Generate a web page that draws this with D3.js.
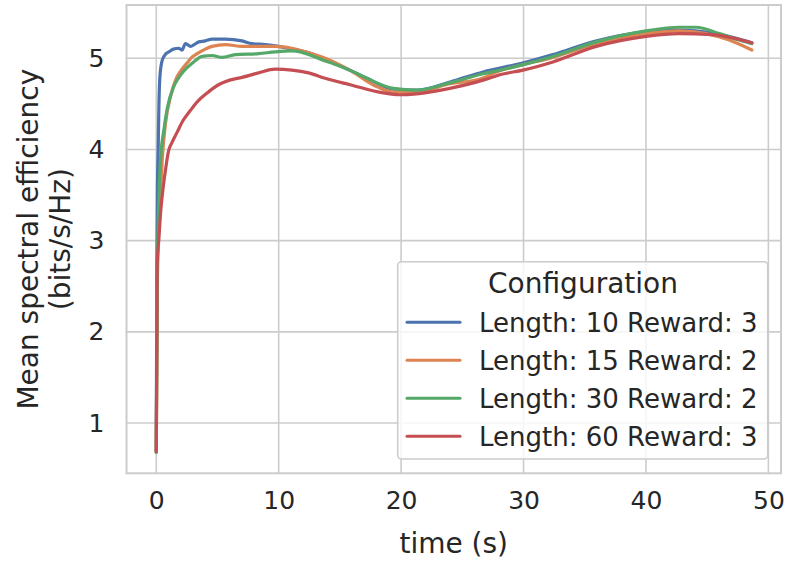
<!DOCTYPE html>
<html>
<head>
<meta charset="utf-8">
<script src="https://cdn.jsdelivr.net/npm/d3@7"></script>
<style>
  html, body { margin: 0; padding: 0; background: #fff; }
  svg { display: block; font-family: "DejaVu Sans", sans-serif; }
</style>
</head>
<body>
<svg id="chart" width="787" height="564"></svg>
<script>
// ---- data ----
const configurations = ["Length: 10 Reward: 3", "Length: 15 Reward: 2", "Length: 30 Reward: 2", "Length: 60 Reward: 3"];
const colors = ["#4c72b0", "#dd8452", "#55a868", "#c44e52"];
const xTicks = [0, 10, 20, 30, 40, 50];
const yTicks = [1, 2, 3, 4, 5];

const seriesL10 = [[0,0.68],[0.05,2.7],[0.1,3.6],[0.15,3.95],[0.22,4.5],[0.3,4.8],[0.49,4.98],[0.8,5.05],[1.03,5.07],[1.4,5.10],[1.84,5.11],[2.1,5.09],[2.39,5.16],[2.81,5.13],[3.1,5.15],[3.47,5.18],[4.0,5.19],[4.56,5.21],[5.65,5.21],[7.0,5.19],[7.82,5.16],[8.9,5.15],[10.0,5.13],[11.1,5.10],[12.2,5.07],[13.8,4.99],[15.8,4.87],[17.2,4.78],[19.4,4.66],[21.3,4.65],[24.0,4.74],[26.7,4.85],[30.0,4.95],[32.4,5.04],[35.9,5.19],[40.0,5.29],[42.7,5.31],[45.4,5.28],[47.6,5.21],[48.65,5.17]];
const seriesL15 = [[0,0.68],[0.1,2.6],[0.2,3.1],[0.35,3.5],[0.49,3.89],[0.76,4.29],[1.17,4.58],[1.71,4.80],[2.1,4.88],[2.53,4.95],[2.9,5.01],[3.34,5.05],[4.0,5.10],[4.56,5.13],[5.65,5.15],[7.0,5.13],[8.36,5.13],[9.72,5.13],[11.08,5.11],[12.7,5.05],[13.8,5.0],[15.8,4.87],[18.0,4.69],[19.36,4.63],[21.3,4.63],[24.0,4.72],[26.4,4.77],[28.0,4.86],[30.0,4.93],[32.4,5.01],[35.9,5.16],[40.0,5.27],[42.67,5.30],[44.9,5.27],[46.8,5.20],[48.65,5.09]];
const seriesL30 = [[0,0.68],[0.08,2.5],[0.21,3.45],[0.35,3.89],[0.62,4.21],[0.9,4.45],[1.43,4.69],[1.8,4.78],[2.25,4.86],[3.06,4.96],[3.75,5.02],[4.56,5.03],[5.38,5.01],[6.46,5.04],[8.36,5.05],[9.73,5.07],[11.08,5.08],[11.76,5.07],[12.44,5.04],[13.8,4.97],[14.47,4.94],[15.8,4.87],[17.2,4.78],[19.36,4.67],[21.27,4.65],[23.98,4.73],[26.7,4.83],[28.06,4.87],[29.96,4.93],[32.4,5.02],[35.94,5.18],[40.0,5.30],[42.67,5.34],[44.1,5.34],[45.99,5.27],[47.62,5.20],[48.65,5.16]];
const seriesL60 = [[0,0.69],[0.03,1.5],[0.08,2.76],[0.21,3.01],[0.35,3.30],[0.6,3.62],[0.76,3.78],[1.0,3.98],[1.3,4.08],[1.71,4.19],[2.2,4.32],[2.8,4.43],[3.4,4.53],[4.16,4.62],[5.24,4.72],[6.0,4.76],[7.0,4.79],[8.36,4.84],[9.72,4.88],[11.08,4.87],[12.44,4.84],[13.8,4.78],[15.84,4.71],[18.55,4.62],[19.9,4.60],[21.27,4.61],[23.98,4.67],[26.7,4.76],[28.06,4.82],[29.96,4.87],[32.4,4.96],[35.94,5.13],[40.0,5.24],[42.67,5.27],[45.4,5.26],[48.65,5.17]];
const allSeries = [seriesL10, seriesL15, seriesL30, seriesL60];

// ---- layout ----
const svg = d3.select("#chart");
const pLeft = 126.5, pRight = 781, pTop = 5, pBottom = 473.3;
const x = d3.scaleLinear().domain([-2.43, 51.03]).range([pLeft, pRight]);
const y = d3.scaleLinear().domain([0.449, 5.584]).range([pBottom, pTop]);
const gridColor = "#cccccc";
const textColor = "#262626";

// grid
svg.append("g").selectAll("line").data(xTicks).join("line")
  .attr("x1", d => x(d)).attr("x2", d => x(d)).attr("y1", pTop).attr("y2", pBottom)
  .attr("stroke", gridColor).attr("stroke-width", 1.6);
svg.append("g").selectAll("line").data(yTicks).join("line")
  .attr("y1", d => y(d)).attr("y2", d => y(d)).attr("x1", pLeft).attr("x2", pRight)
  .attr("stroke", gridColor).attr("stroke-width", 1.6);

// spines
svg.append("rect").attr("x", pLeft).attr("y", pTop).attr("width", pRight - pLeft).attr("height", pBottom - pTop)
  .attr("fill", "none").attr("stroke", gridColor).attr("stroke-width", 2);

// axes (labels only)
const xAxis = svg.append("g").attr("transform", `translate(0,${pBottom})`)
  .call(d3.axisBottom(x).tickValues(xTicks).tickSize(0).tickPadding(18).tickFormat(d3.format("d")));
const yAxis = svg.append("g").attr("transform", `translate(${pLeft},0)`)
  .call(d3.axisLeft(y).tickValues(yTicks).tickSize(0).tickPadding(22).tickFormat(d3.format("d")));
[xAxis, yAxis].forEach(g => {
  g.select(".domain").remove();
  g.selectAll("text").attr("fill", textColor).style("font-size", "25px").style("font-family", "DejaVu Sans");
});

// lines
const line = d3.line().x(d => x(d[0])).y(d => y(d[1])).curve(d3.curveMonotoneX);
svg.append("g").selectAll("path").data(allSeries).join("path")
  .attr("d", line).attr("fill", "none")
  .attr("stroke", (d, i) => colors[i]).attr("stroke-width", 3.2)
  .attr("stroke-linejoin", "round").attr("stroke-linecap", "round");

// axis labels
svg.append("text").attr("x", (pLeft + pRight) / 2).attr("y", 553).attr("text-anchor", "middle")
  .attr("fill", textColor).style("font-size", "28px").text("time (s)");
const ylab = svg.append("text").attr("transform", `translate(38,${(pTop + pBottom) / 2}) rotate(-90)`)
  .attr("text-anchor", "middle").attr("fill", textColor).style("font-size", "28px");
ylab.append("tspan").attr("x", 0).attr("y", 0).text("Mean spectral efficiency");
ylab.append("tspan").attr("x", 0).attr("y", 32).text("(bits/s/Hz)");

// legend
const lg = svg.append("g");
lg.append("rect").attr("x", 397.7).attr("y", 261.7).attr("width", 370).attr("height", 197.3)
  .attr("rx", 4).attr("fill", "rgba(255,255,255,0.8)").attr("stroke", gridColor).attr("stroke-width", 1.6);
lg.append("text").attr("x", 583).attr("y", 293).attr("text-anchor", "middle")
  .attr("fill", textColor).style("font-size", "28px").text("Configuration");
const rows = lg.selectAll("g.row").data(configurations).join("g").attr("class", "row")
  .attr("transform", (d, i) => `translate(0,${322.3 + i * 38})`);
rows.append("line").attr("x1", 407).attr("x2", 460).attr("y1", 0).attr("y2", 0)
  .attr("stroke", (d, i) => colors[i]).attr("stroke-width", 3).attr("stroke-linecap", "round");
rows.append("text").attr("x", 479).attr("y", 9.6).attr("fill", textColor)
  .style("font-size", "26px").text(d => d);
</script>
</body>
</html>
